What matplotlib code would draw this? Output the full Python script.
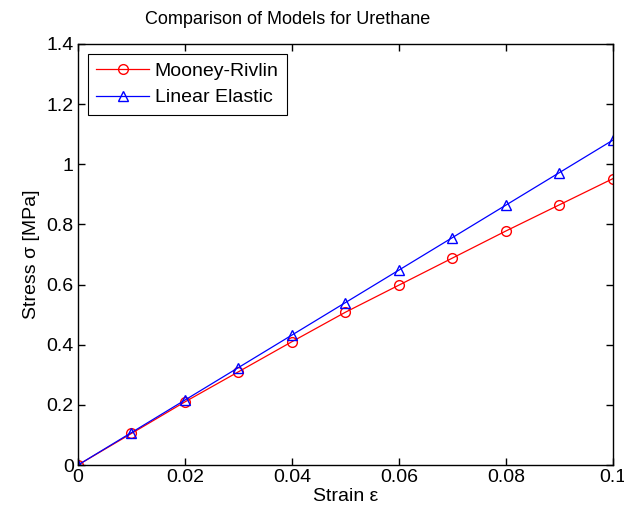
import matplotlib
matplotlib.use("Agg")
import matplotlib.pyplot as plt

strain = [0, 0.01, 0.02, 0.03, 0.04, 0.05, 0.06, 0.07, 0.08, 0.09, 0.10]
mooney = [0, 0.105, 0.21, 0.31, 0.41, 0.508, 0.598, 0.688, 0.778, 0.865, 0.952]
linear = [0, 0.108, 0.216, 0.324, 0.432, 0.54, 0.648, 0.756, 0.864, 0.972, 1.08]
xticks = [0, 0.02, 0.04, 0.06, 0.08, 0.1]
xticklabels = ["0", "0.02", "0.04", "0.06", "0.08", "0.1"]
yticks = [0, 0.2, 0.4, 0.6, 0.8, 1.0, 1.2, 1.4]
yticklabels = ["0", "0.2", "0.4", "0.6", "0.8", "1", "1.2", "1.4"]

plt.rcParams['font.family'] = ['Liberation Sans', 'DejaVu Sans']

fig = plt.figure(figsize=(6.24, 5.16), dpi=100)
ax = fig.add_axes([0.125, 0.0988, 0.857, 0.816])

ax.plot(strain, mooney, color='red', marker='o', markersize=7, markerfacecolor='none',
        markeredgecolor='red', linewidth=0.9, label='Mooney-Rivlin')
ax.plot(strain, linear, color='blue', marker='^', markersize=7, markerfacecolor='none',
        markeredgecolor='blue', linewidth=0.9, label='Linear Elastic')

ax.set_xlim(0, 0.1)
ax.set_ylim(0, 1.4)
ax.set_xticks(xticks)
ax.set_xticklabels(xticklabels)
ax.set_yticks(yticks)
ax.set_yticklabels(yticklabels)
ax.tick_params(direction='in', top=True, right=True, labelsize=14, length=5, width=1, pad=3)
for s in ax.spines.values():
    s.set_linewidth(1)

ax.set_xlabel('Strain ε', fontsize=14, labelpad=1)
ax.set_ylabel('Stress σ [MPa]', fontsize=14, labelpad=5)
fig.text(288/624, 1 - 20/516, 'Comparison of Models for Urethane', fontsize=13,
         ha='center', va='center')

leg = ax.legend(loc='upper left', fontsize=14, fancybox=False, framealpha=1,
                edgecolor='black', handlelength=2.7, borderaxespad=0.5,
                labelspacing=0.45, handletextpad=0.3, borderpad=0.45)
leg.get_frame().set_linewidth(0.8)

fig.savefig('out.png', dpi=100)
